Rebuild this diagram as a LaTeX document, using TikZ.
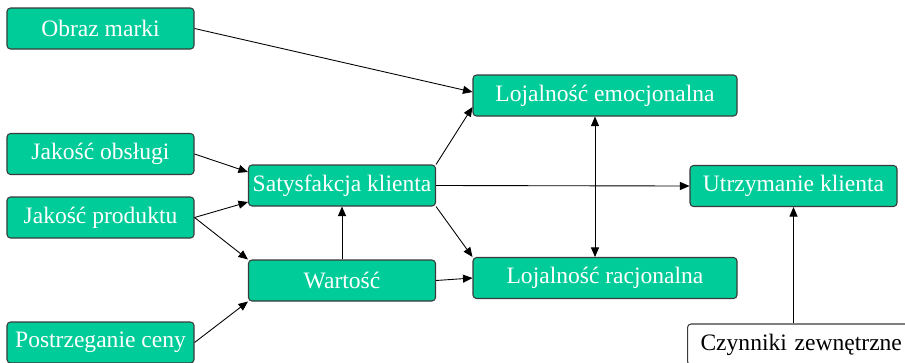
\documentclass[tikz,border=0pt]{standalone}
\usepackage{fontspec}
\setmainfont{Liberation Serif}
\usepackage{xcolor}
\usepackage{tikz}
\usetikzlibrary{arrows.meta,calc}
\definecolor{lojgreen}{HTML}{00CC99}
\definecolor{lojedge}{HTML}{3A3A3A}
\tikzset{
  factor/.style={draw=lojedge,line width=0.6pt,rounded corners=2pt,fill=lojgreen,text=white,font=\fontsize{13.4}{16}\selectfont,minimum width=37.4mm,minimum height=8.2mm,inner sep=0pt},
  outside/.style={draw=lojedge,line width=0.6pt,rounded corners=2pt,fill=white,text=black,font=\fontsize{13.4}{16}\selectfont,minimum height=8.2mm,inner ysep=0pt,inner xsep=2.6mm,text width=48mm,align=left},
  link/.style={-{Triangle[length=1.9mm,width=1.6mm]},draw=black,line width=0.5pt},
  bilink/.style={{Triangle[length=1.9mm,width=1.6mm]}-{Triangle[length=1.9mm,width=1.6mm]},draw=black,line width=0.5pt}
}
\begin{document}
\begin{tikzpicture}[x=0.2mm,y=0.2mm]
\useasboundingbox (0,0) rectangle (905,362);
\node[factor] (om) at (100.5,333.5) {Obraz marki};
\node[factor] (jo) at (100.5,208) {Jakość obsługi};
\node[factor] (jp) at (100.5,144.5) {Jakość produktu};
\node[factor] (pc) at (100.5,19.5) {Postrzeganie ceny};
\node[factor] (sk) at (342,176.5) {Satysfakcja klienta};
\node[factor] (wa) at (342,81.5) {Wartość};
\node[factor,minimum width=52.8mm] (le) at (605,266.5) {Lojalność emocjonalna};
\node[factor,minimum width=52.8mm] (lr) at (605,84) {Lojalność racjonalna};
\node[factor,minimum width=41.4mm] (ut) at (793.5,176) {Utrzymanie klienta};
\node[outside,anchor=west] (cz) at (687,17.5) {Czynniki zewnętrzne};
\draw[link] (om.east) -- ([yshift=0.7mm]le.west);
\draw[link] (jo.east) -- ([yshift=2.7mm]sk.west);
\draw[link] (jp.east) -- ([yshift=-3.3mm]sk.west);
\draw[link] (jp.east) -- (wa.north west);
\draw[link] (pc.east) -- (wa.south west);
\draw[link] (wa.north) -- (sk.south);
\draw[link] (sk.north east) -- ([yshift=-2.3mm]le.west);
\draw[link] (sk.east) -- (ut.west);
\draw[link] (sk.south east) -- (lr.north west);
\draw[link] (wa.east) -- (lr.west);
\draw[bilink] ([xshift=-2mm]le.south) -- ([xshift=-2mm]lr.north);
\draw[link] (cz.north -| ut.south) -- (ut.south);
\end{tikzpicture}
\end{document}
